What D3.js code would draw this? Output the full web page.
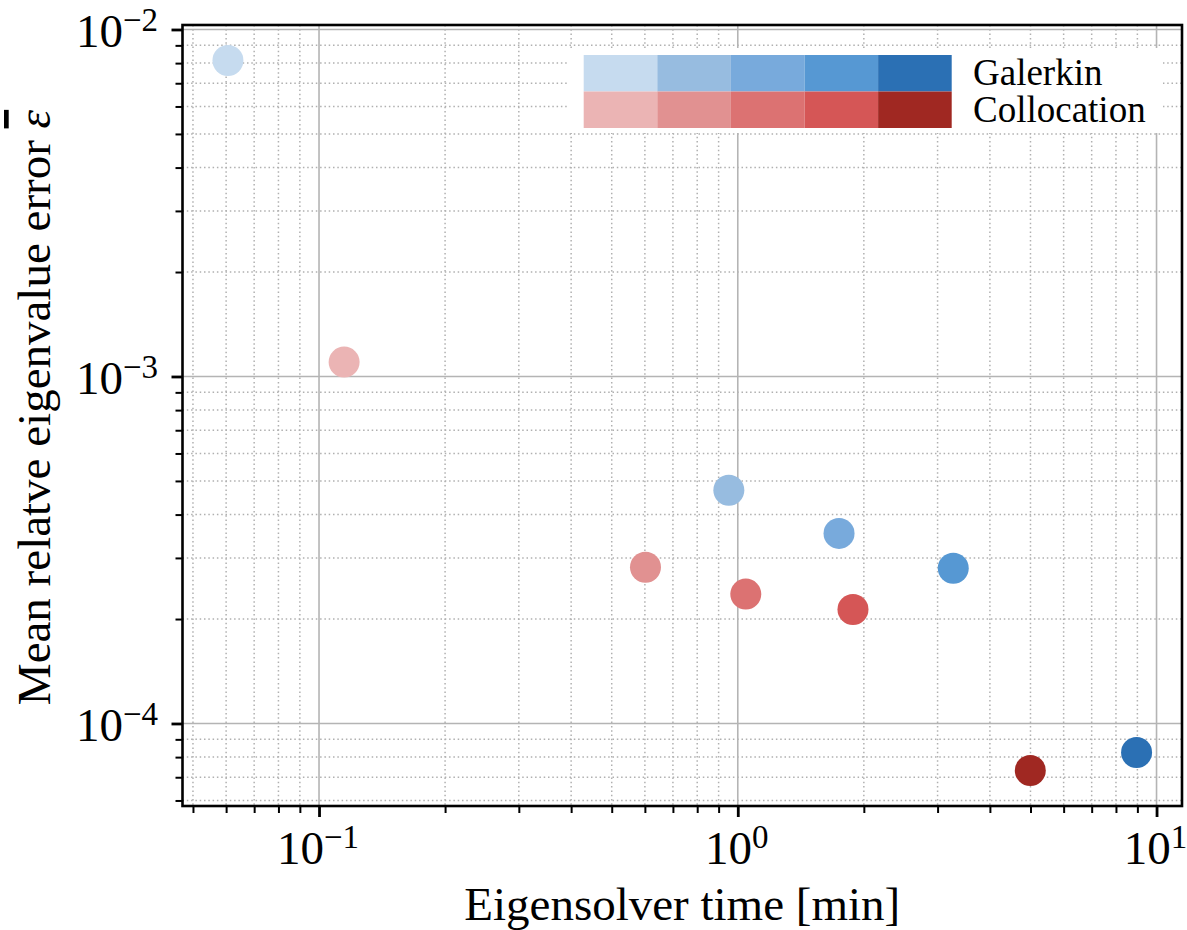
<!DOCTYPE html>
<html>
<head>
<meta charset="utf-8">
<title>Eigensolver time vs error</title>
<script src="https://d3js.org/d3.v7.min.js"></script>
<style>
    body { margin: 0; background: #fff; }
    text { font-family: "Liberation Serif", "DejaVu Serif", serif; fill: #000; }
    .minor-grid line { stroke: #b0b0b0; stroke-width: 1.5; stroke-dasharray: 1.5,2.8; }
    .major-grid line { stroke: #b4b4b4; stroke-width: 1.6; }
</style>
</head>
<body>
<svg width="1187" height="930"></svg>
<script>
    // data
    var galerkinTime = [0.0606, 0.952, 1.745, 3.27, 8.96];
    var galerkinError = [8.14e-3, 4.70e-4, 3.53e-4, 2.80e-4, 8.25e-5];
    var collocationTime = [0.1148, 0.602, 1.045, 1.884, 4.995];
    var collocationError = [1.10e-3, 2.82e-4, 2.36e-4, 2.13e-4, 7.32e-5];

    var seriesNames = ["Galerkin", "Collocation"];
    var blues = ["#c6dbef", "#97bce0", "#78aadc", "#5698d3", "#2b70b4"];
    var reds = ["#ebb4b4", "#e19191", "#dc7272", "#d55656", "#a02822"];

    var svg = d3.select("svg"),
        pLeft = 182.5, pRight = 1182, pTop = 25, pBottom = 806;

    // matplotlib style 5% padding in log space
    function logPad(vals) {
        var lo = Math.log10(d3.min(vals)), hi = Math.log10(d3.max(vals)), p = (hi - lo) * 0.05;
        return [Math.pow(10, lo - p), Math.pow(10, hi + p)];
    }

    var x = d3.scaleLog()
        .domain(logPad(galerkinTime.concat(collocationTime)))
        .range([pLeft, pRight]);
    var y = d3.scaleLog()
        .domain(logPad(galerkinError.concat(collocationError)))
        .range([pBottom, pTop]);

    function isMajor(v) {
        var l = Math.log10(v);
        return Math.abs(l - Math.round(l)) < 1e-9;
    }
    var xTicks = x.ticks(), yTicks = y.ticks();
    var xMajor = xTicks.filter(isMajor), xMinor = xTicks.filter(function (v) { return !isMajor(v); });
    var yMajor = yTicks.filter(isMajor), yMinor = yTicks.filter(function (v) { return !isMajor(v); });

    // grid
    var mg = svg.append("g").attr("class", "minor-grid");
    mg.selectAll(".vx").data(xMinor).enter().append("line")
        .attr("x1", x).attr("x2", x).attr("y1", pTop).attr("y2", pBottom);
    mg.selectAll(".hy").data(yMinor).enter().append("line")
        .attr("y1", y).attr("y2", y).attr("x1", pLeft).attr("x2", pRight);

    var Mg = svg.append("g").attr("class", "major-grid");
    Mg.selectAll(".vx").data(xMajor).enter().append("line")
        .attr("x1", x).attr("x2", x).attr("y1", pTop).attr("y2", pBottom);
    Mg.selectAll(".hy").data(yMajor).enter().append("line")
        .attr("y1", y).attr("y2", y).attr("x1", pLeft).attr("x2", pRight);

    // points
    function drawSeries(times, errors, colors) {
        svg.append("g").selectAll("circle")
            .data(times.map(function (t, i) { return {t: t, e: errors[i], i: i}; }))
            .enter().append("circle")
            .attr("cx", function (d) { return x(d.t); })
            .attr("cy", function (d) { return y(d.e); })
            .attr("r", 15.5)
            .style("fill", function (d) { return colors[d.i]; });
    }
    drawSeries(galerkinTime, galerkinError, blues);
    drawSeries(collocationTime, collocationError, reds);

    // legend
    var leg = svg.append("g");
    leg.append("rect")
        .attr("x", 568).attr("y", 48).attr("width", 595).attr("height", 85)
        .style("fill", "#fff");
    [blues, reds].forEach(function (cols, r) {
        leg.selectAll(".sw" + r).data(cols).enter().append("rect")
            .attr("x", function (d, i) { return 583.7 + i * 73.6; })
            .attr("y", 55 + r * 36.5)
            .attr("width", 73.6).attr("height", 36.5)
            .style("fill", function (d) { return d; });
        leg.append("text")
            .attr("x", 973).attr("y", 85 + r * 37)
            .style("font-size", "37px")
            .text(seriesNames[r]);
    });

    // axes frame + ticks
    var xAxisMajor = d3.axisBottom(x).tickValues(xMajor).tickSize(11).tickFormat("");
    var xAxisMinor = d3.axisBottom(x).tickValues(xMinor).tickSize(7).tickFormat("");
    var yAxisMajor = d3.axisLeft(y).tickValues(yMajor).tickSize(11).tickFormat("");
    var yAxisMinor = d3.axisLeft(y).tickValues(yMinor).tickSize(7).tickFormat("");

    function styleAxis(g, w) {
        g.select(".domain").remove();
        g.selectAll("line").style("stroke", "#000").style("stroke-width", w);
    }
    svg.append("g").attr("transform", "translate(0," + pBottom + ")").call(xAxisMajor).call(styleAxis, 2.8);
    svg.append("g").attr("transform", "translate(0," + pBottom + ")").call(xAxisMinor).call(styleAxis, 2);
    svg.append("g").attr("transform", "translate(" + pLeft + ",0)").call(yAxisMajor).call(styleAxis, 2.8);
    svg.append("g").attr("transform", "translate(" + pLeft + ",0)").call(yAxisMinor).call(styleAxis, 2);

    svg.append("rect")
        .attr("x", pLeft).attr("y", pTop)
        .attr("width", pRight - pLeft).attr("height", pBottom - pTop)
        .style("fill", "none").style("stroke", "#000").style("stroke-width", 2.6);

    // tick labels as 10^n
    function powLabel(sel, v) {
        sel.append("tspan").text("10");
        sel.append("tspan").attr("dy", -16).style("font-size", "33px")
            .text(String(Math.round(Math.log10(v))).replace("-", "\u2212"));
    }
    xMajor.forEach(function (v) {
        svg.append("text")
            .attr("x", x(v) - 1).attr("y", pBottom + 58)
            .attr("text-anchor", "middle")
            .style("font-size", "47px")
            .call(powLabel, v);
    });
    yMajor.forEach(function (v) {
        svg.append("text")
            .attr("x", 158).attr("y", y(v) + 18)
            .attr("text-anchor", "end")
            .style("font-size", "47px")
            .call(powLabel, v);
    });

    // axis titles
    svg.append("text")
        .attr("x", (pLeft + pRight) / 2).attr("y", 920)
        .attr("text-anchor", "middle")
        .style("font-size", "47px")
        .text("Eigensolver time [min]");

    var yl = svg.append("text")
        .attr("transform", "translate(50," + ((pTop + pBottom) / 2 - 8) + ") rotate(-90)")
        .attr("text-anchor", "middle")
        .style("font-size", "47px");
    yl.append("tspan").text("Mean relatve eigenvalue error ");
    yl.append("tspan").style("font-style", "italic").style("text-decoration", "overline").text("\u03b5");
</script>
</body>
</html>
